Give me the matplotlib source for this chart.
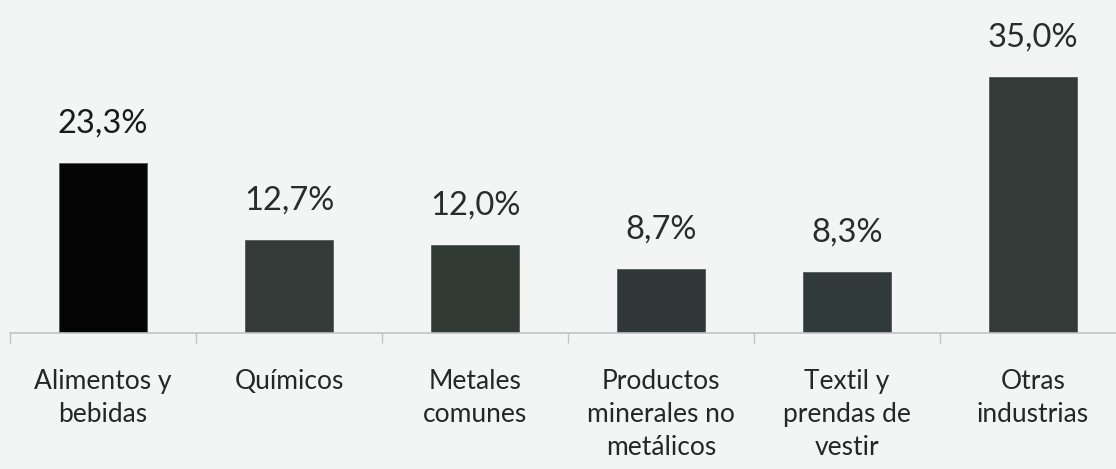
import matplotlib.pyplot as plt
import numpy as np

# Data
categories = ['Alimentos y\nbebidas', 'Químicos', 'Metales\ncomunes',
              'Productos\nminerales no\nmetálicos', 'Textil y\nprendas de\nvestir',
              'Otras\nindustrias']
values = [23.3, 12.7, 12.0, 8.7, 8.3, 35.0]
value_labels = ['23,3%', '12,7%', '12,0%', '8,7%', '8,3%', '35,0%']
bar_colors = ['#050505', '#343a37', '#323a36', '#2f3836', '#303a38', '#333a37']

plt.rcParams['font.family'] = ['Lato', 'DejaVu Sans']

fig = plt.figure(figsize=(11.16, 4.69), dpi=100)
fig.patch.set_facecolor('#f3f5f5')
ax = fig.add_axes([10 / 1116, (469 - 333) / 469, 1116 / 1116, 292 / 469])
ax.set_facecolor('#f3f5f5')

x = np.arange(len(categories))
ax.bar(x, values, width=0.47, color=bar_colors, edgecolor='#555a58', linewidth=0.6)

for xi, v, lab in zip(x, values, value_labels):
    ax.text(xi, v + 3.4, lab, ha='center', va='bottom', fontsize=23.5,
            color='#1a1a1a' if xi == 0 else '#2b2b2b')

ax.set_xlim(-0.5, 5.5)
ax.set_ylim(0, 40)
ax.set_yticks([])
for s in ['top', 'right', 'left']:
    ax.spines[s].set_visible(False)
ax.spines['bottom'].set_color('#bfc3c3')
ax.spines['bottom'].set_linewidth(1.2)

ax.set_xticks(np.arange(-0.5, 6.0, 1.0), minor=False)
ax.set_xticklabels([])
ax.tick_params(axis='x', which='major', length=7, color='#bfc3c3', width=1)
ax.set_xticks(x, minor=True)
ax.set_xticklabels(categories, minor=True, fontsize=19, color='#262626',
                   linespacing=1.4)
ax.tick_params(axis='x', which='minor', length=0, pad=26)

fig.savefig('out.png', dpi=100, facecolor=fig.get_facecolor())
